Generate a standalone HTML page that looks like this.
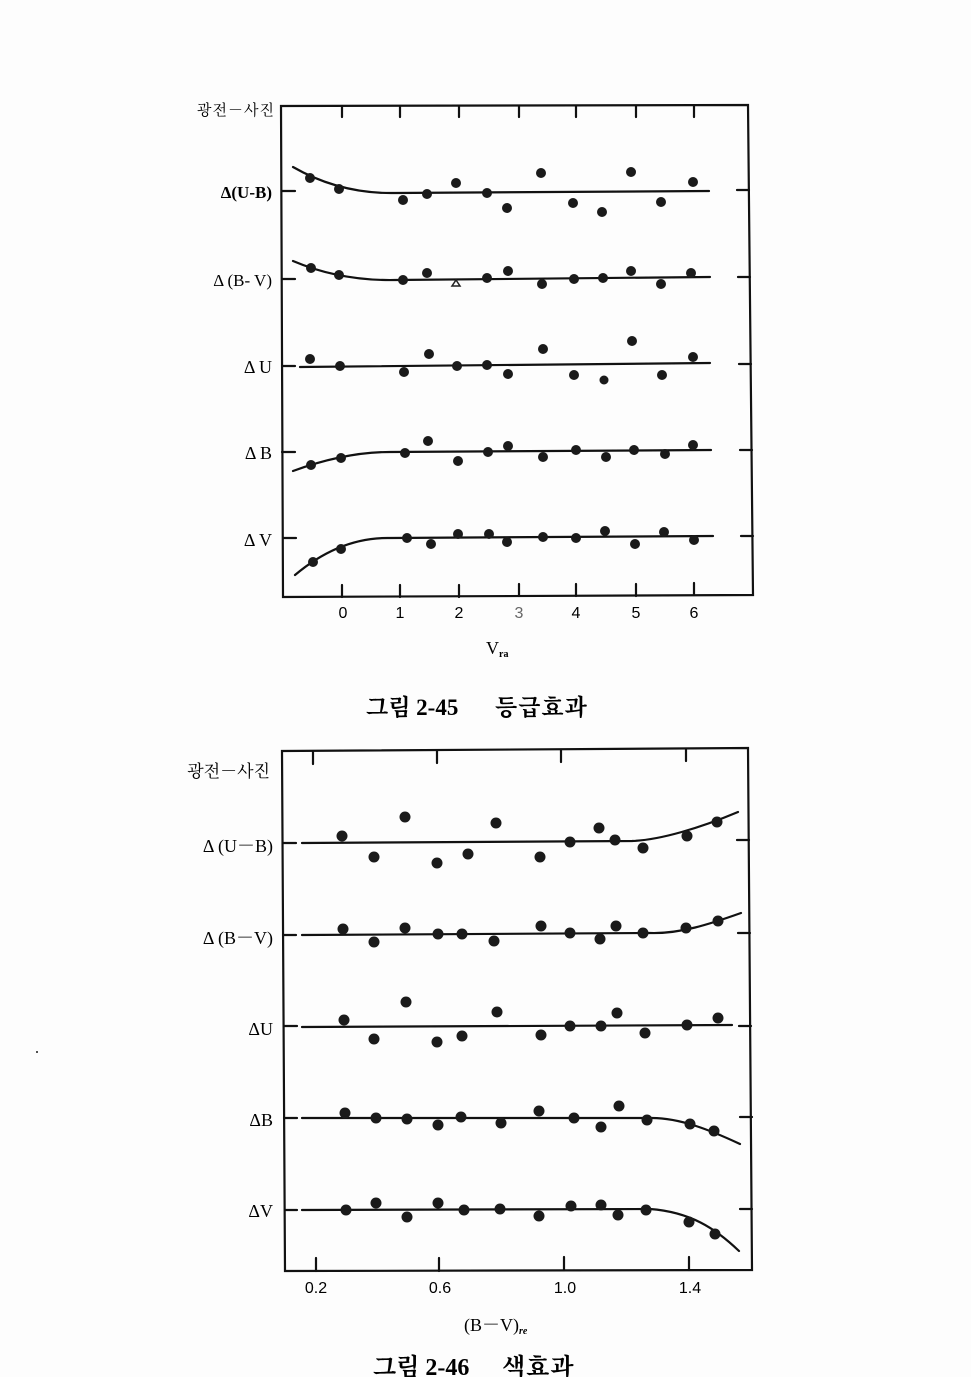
<!DOCTYPE html>
<html><head><meta charset="utf-8"><style>
html,body{margin:0;padding:0;background:#fdfdfd;}
svg{display:block;}
.tk{font-family:"Liberation Sans",sans-serif;font-size:16px;fill:#000;}
.lb{font-family:"Liberation Serif","Noto Serif CJK KR",serif;fill:#000;}
.kr{font-family:"Liberation Serif","Noto Serif CJK KR","Noto Serif CJK SC","NanumGothic",serif;fill:#000;}
</style></head><body>
<svg width="971" height="1377" viewBox="0 0 971 1377" xmlns="http://www.w3.org/2000/svg">
<rect width="971" height="1377" fill="#fdfdfd"/>
<g stroke="#111" stroke-width="2.2" fill="none" stroke-linecap="round">
<path d="M281,106 L748,105 L753,595 L283,597 Z"/>
<path d="M342,106V117 M400,106V117 M459,106V117 M519,106V117 M576,106V117 M636,106V117 M694,106V117"/>
<path d="M342,597V585 M400,597V585 M459,597V585 M519,596V584 M576,596V584 M636,596V584 M694,595V583"/>
<path d="M282,191H295 M282,279H295 M282,366H295 M282,452H295 M283,538H296"/>
<path d="M737,190H749 M738,277H750 M739,364H751 M740,450H752 M741,536H753"/>
<path d="M293,167 Q340,194 395,193 L709,191"/>
<path d="M293,261 Q340,281 395,280 L710,277"/>
<path d="M300,367 L710,363"/>
<path d="M293,471 Q345,452 390,452 L711,450"/>
<path d="M295,575 Q340,537 390,538 L713,536"/>

<path d="M282,751 L748,748 L752,1270 L285,1271 Z"/>
<path d="M313,752V764 M437,751V763 M561,750V762 M686,749V761"/>
<path d="M316,1271V1258 M439,1271V1258 M564,1270V1257 M689,1270V1257"/>
<path d="M283,843H296 M283,935H296 M284,1026H297 M284,1118H297 M285,1210H297"/>
<path d="M737,840H749 M738,933H750 M739,1026H751 M740,1117H752 M740,1209H752"/>
<path d="M302,843 L632,841 C660,840 700,828 738,812"/>
<path d="M302,935 L650,933 C680,934 710,924 741,913"/>
<path d="M302,1027 L732,1025"/>
<path d="M302,1118 L652,1118 C680,1118 710,1130 740,1144"/>
<path d="M302,1210 L650,1209 C690,1212 715,1228 739,1251"/>
</g>

<g fill="#1a1a1a">
<circle cx="310" cy="178" r="5"/><circle cx="339" cy="189" r="5"/><circle cx="403" cy="200" r="5"/><circle cx="427" cy="194" r="5"/><circle cx="456" cy="183" r="5"/><circle cx="487" cy="193" r="5"/><circle cx="507" cy="208" r="5"/><circle cx="541" cy="173" r="5"/><circle cx="573" cy="203" r="5"/><circle cx="602" cy="212" r="5"/><circle cx="631" cy="172" r="5"/><circle cx="661" cy="202" r="5"/><circle cx="693" cy="182" r="5"/>
<circle cx="311" cy="268" r="5"/><circle cx="339" cy="275" r="5"/><circle cx="403" cy="280" r="5"/><circle cx="427" cy="273" r="5"/><circle cx="487" cy="278" r="5"/><circle cx="508" cy="271" r="5"/><circle cx="542" cy="284" r="5"/><circle cx="574" cy="279" r="5"/><circle cx="603" cy="278" r="5"/><circle cx="631" cy="271" r="5"/><circle cx="661" cy="284" r="5"/><circle cx="691" cy="273" r="5"/>
<circle cx="310" cy="359" r="5"/><circle cx="340" cy="366" r="5"/><circle cx="404" cy="372" r="5"/><circle cx="429" cy="354" r="5"/><circle cx="457" cy="366" r="5"/><circle cx="487" cy="365" r="5"/><circle cx="508" cy="374" r="5"/><circle cx="543" cy="349" r="5"/><circle cx="574" cy="375" r="5"/><circle cx="604" cy="380" r="4.5"/><circle cx="632" cy="341" r="5"/><circle cx="662" cy="375" r="5"/><circle cx="693" cy="357" r="5"/>
<circle cx="311" cy="465" r="5"/><circle cx="341" cy="458" r="5"/><circle cx="405" cy="453" r="5"/><circle cx="428" cy="441" r="5"/><circle cx="458" cy="461" r="5"/><circle cx="488" cy="452" r="5"/><circle cx="508" cy="446" r="5"/><circle cx="543" cy="457" r="5"/><circle cx="576" cy="450" r="5"/><circle cx="606" cy="457" r="5"/><circle cx="634" cy="450" r="5"/><circle cx="665" cy="454" r="5"/><circle cx="693" cy="445" r="5"/>
<circle cx="313" cy="562" r="5"/><circle cx="341" cy="549" r="5"/><circle cx="407" cy="538" r="5"/><circle cx="431" cy="544" r="5"/><circle cx="458" cy="534" r="5"/><circle cx="489" cy="534" r="5"/><circle cx="507" cy="542" r="5"/><circle cx="543" cy="537" r="5"/><circle cx="576" cy="538" r="5"/><circle cx="605" cy="531" r="5"/><circle cx="635" cy="544" r="5"/><circle cx="664" cy="532" r="5"/><circle cx="694" cy="540" r="5"/>

<circle cx="342" cy="836" r="5.5"/><circle cx="374" cy="857" r="5.5"/><circle cx="405" cy="817" r="5.5"/><circle cx="437" cy="863" r="5.5"/><circle cx="468" cy="854" r="5.5"/><circle cx="496" cy="823" r="5.5"/><circle cx="540" cy="857" r="5.5"/><circle cx="570" cy="842" r="5.5"/><circle cx="599" cy="828" r="5.5"/><circle cx="615" cy="840" r="5.5"/><circle cx="643" cy="848" r="5.5"/><circle cx="687" cy="836" r="5.5"/><circle cx="717" cy="822" r="5.5"/>
<circle cx="343" cy="929" r="5.5"/><circle cx="374" cy="942" r="5.5"/><circle cx="405" cy="928" r="5.5"/><circle cx="438" cy="934" r="5.5"/><circle cx="462" cy="934" r="5.5"/><circle cx="494" cy="941" r="5.5"/><circle cx="541" cy="926" r="5.5"/><circle cx="570" cy="933" r="5.5"/><circle cx="600" cy="939" r="5.5"/><circle cx="616" cy="926" r="5.5"/><circle cx="643" cy="933" r="5.5"/><circle cx="686" cy="928" r="5.5"/><circle cx="718" cy="921" r="5.5"/>
<circle cx="344" cy="1020" r="5.5"/><circle cx="374" cy="1039" r="5.5"/><circle cx="406" cy="1002" r="5.5"/><circle cx="437" cy="1042" r="5.5"/><circle cx="462" cy="1036" r="5.5"/><circle cx="497" cy="1012" r="5.5"/><circle cx="541" cy="1035" r="5.5"/><circle cx="570" cy="1026" r="5.5"/><circle cx="601" cy="1026" r="5.5"/><circle cx="617" cy="1013" r="5.5"/><circle cx="645" cy="1033" r="5.5"/><circle cx="687" cy="1025" r="5.5"/><circle cx="718" cy="1018" r="5.5"/>
<circle cx="345" cy="1113" r="5.5"/><circle cx="376" cy="1118" r="5.5"/><circle cx="407" cy="1119" r="5.5"/><circle cx="438" cy="1125" r="5.5"/><circle cx="461" cy="1117" r="5.5"/><circle cx="501" cy="1123" r="5.5"/><circle cx="539" cy="1111" r="5.5"/><circle cx="574" cy="1118" r="5.5"/><circle cx="601" cy="1127" r="5.5"/><circle cx="619" cy="1106" r="5.5"/><circle cx="647" cy="1120" r="5.5"/><circle cx="690" cy="1124" r="5.5"/><circle cx="714" cy="1131" r="5.5"/>
<circle cx="346" cy="1210" r="5.5"/><circle cx="376" cy="1203" r="5.5"/><circle cx="407" cy="1217" r="5.5"/><circle cx="438" cy="1203" r="5.5"/><circle cx="464" cy="1210" r="5.5"/><circle cx="500" cy="1209" r="5.5"/><circle cx="539" cy="1216" r="5.5"/><circle cx="571" cy="1206" r="5.5"/><circle cx="601" cy="1205" r="5.5"/><circle cx="618" cy="1215" r="5.5"/><circle cx="646" cy="1210" r="5.5"/><circle cx="689" cy="1222" r="5.5"/><circle cx="715" cy="1234" r="5.5"/>
<circle cx="37" cy="1052" r="1"/>
</g>
<path d="M456,280 L460,286 L452,286 Z" fill="none" stroke="#222" stroke-width="1.5"/>

<text class="kr" x="275" y="115" font-size="15" letter-spacing="1" text-anchor="end">광전－사진</text>
<text class="lb" x="272" y="198" font-size="17" font-weight="bold" text-anchor="end">Δ(U-B)</text>
<text class="lb" x="272" y="286" font-size="17" text-anchor="end">Δ (B- V)</text>
<text class="lb" x="272" y="373" font-size="18" text-anchor="end">Δ U</text>
<text class="lb" x="272" y="459" font-size="18" text-anchor="end">Δ B</text>
<text class="lb" x="272" y="546" font-size="18" text-anchor="end">Δ V</text>
<g class="tk" text-anchor="middle">
<text x="343" y="618">0</text><text x="400" y="618">1</text><text x="459" y="618">2</text><text x="519" y="618" fill="#666">3</text><text x="576" y="618">4</text><text x="636" y="618">5</text><text x="694" y="618">6</text>
</g>
<text class="lb" x="486" y="654" font-size="18">V<tspan font-size="10" font-weight="bold" dy="3">ra</tspan></text>
<text class="kr" x="366" y="715" font-size="23" font-weight="bold">그림 2-45</text>
<text class="kr" x="495" y="715" font-size="23" font-weight="bold" letter-spacing="1">등급효과</text>

<text class="kr" x="270" y="777" font-size="17" text-anchor="end">광전－사진</text>
<text class="lb" x="273" y="852" font-size="18" text-anchor="end">Δ (U－B)</text>
<text class="lb" x="273" y="944" font-size="18" text-anchor="end">Δ (B－V)</text>
<text class="lb" x="273" y="1035" font-size="18" text-anchor="end">ΔU</text>
<text class="lb" x="273" y="1126" font-size="18" text-anchor="end">ΔB</text>
<text class="lb" x="273" y="1217" font-size="18" text-anchor="end">ΔV</text>
<g class="tk" text-anchor="middle">
<text x="316" y="1293">0.2</text><text x="440" y="1293">0.6</text><text x="565" y="1293">1.0</text><text x="690" y="1293">1.4</text>
</g>
<text class="lb" x="464" y="1331" font-size="18">(B－V)<tspan font-size="10" dy="3" font-style="italic" font-weight="bold">re</tspan></text>
<text class="kr" x="373" y="1375" font-size="24" font-weight="bold">그림 2-46</text>
<text class="kr" x="502" y="1375" font-size="24" font-weight="bold" letter-spacing="1">색효과</text>
</svg>
</body></html>
